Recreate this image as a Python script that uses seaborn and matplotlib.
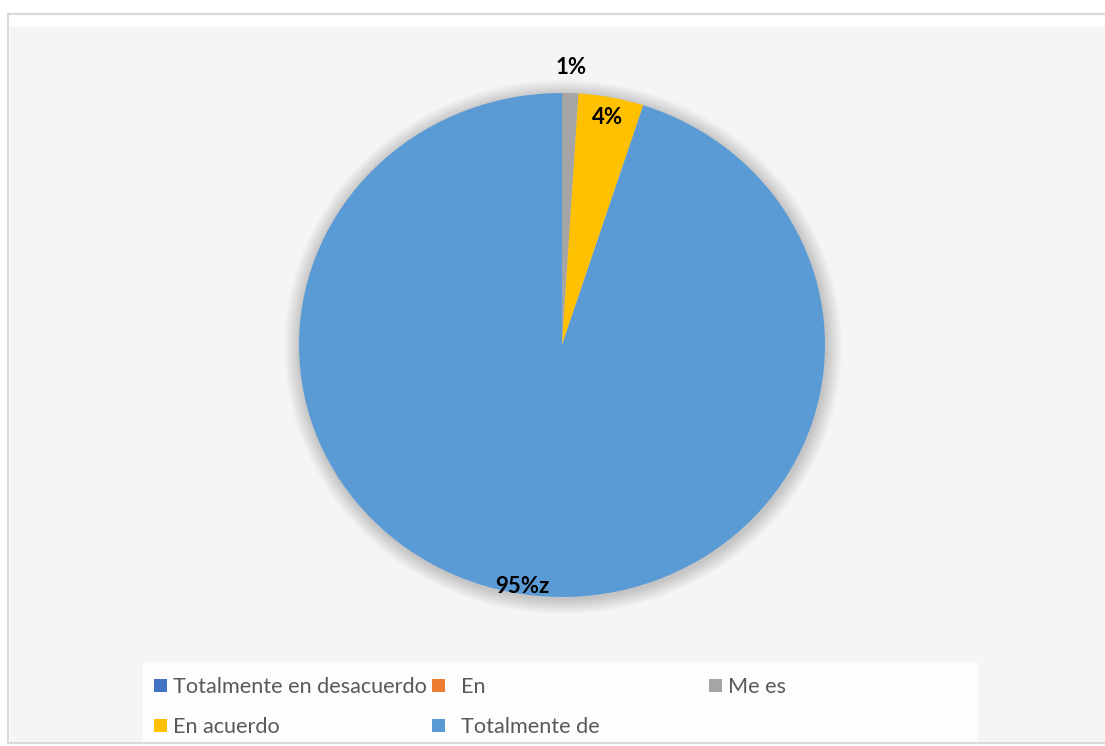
import matplotlib
matplotlib.use("Agg")
import matplotlib.pyplot as plt
from matplotlib.patches import Rectangle, Ellipse
import numpy as np
import seaborn as sns

# Survey answers and their share of responses (%)
categories = ["Totalmente en desacuerdo", "En", "Me es", "En acuerdo", "Totalmente de"]
shares = [0, 0, 1, 4, 95]
value_labels = ["", "", "1%", "4%", "95%z"]
label_dist = [1.0, 1.0, 1.1, 0.92, 0.97]
colors = ["#4472C4", "#ED7D31", "#A5A5A5", "#FFC000", "#5B9BD5"]

sns.set_theme(style="white")
plt.rcParams["font.family"] = ["Lato", "DejaVu Sans"]

W, H = 1105, 746
fig = plt.figure(figsize=(W / 100, H / 100), dpi=100, facecolor="white")

# chart frame and plot-area background
bg = fig.add_axes([0, 0, 1, 1])
bg.set_xlim(0, W)
bg.set_ylim(H, 0)
bg.axis("off")
bg.add_patch(Rectangle((8, 14), W + 10, 729, facecolor="white", edgecolor="#d9d9d9", lw=1.5))
bg.add_patch(Rectangle((10, 27), W, 715, facecolor="#f5f5f5", edgecolor="none"))
bg.add_patch(Rectangle((143, 662), 835, 80, facecolor="#fdfdfd", edgecolor="none"))

# pie area
cx, cy, rx, ry = 562, 345, 263, 252
ax = fig.add_axes([(cx - rx) / W, 1 - (cy + ry) / H, 2 * rx / W, 2 * ry / H])
ax.axis("off")

# soft shadow around the pie
for i in range(12):
    r = 1 + 0.005 * (i + 1)
    ax.add_patch(Ellipse((0.004, -0.008), 2 * r, 2 * r, facecolor="black",
                         alpha=0.016, edgecolor="none", zorder=0, clip_on=False))

wedges, _ = ax.pie(shares, colors=colors, startangle=90, counterclock=False,
                   radius=1, wedgeprops=dict(linewidth=0, clip_on=False), frame=False)
ax.set_xlim(-1, 1)
ax.set_ylim(-1, 1)
ax.set_aspect("auto")

for w, lab, d in zip(wedges, value_labels, label_dist):
    if not lab:
        continue
    mid = np.deg2rad((w.theta1 + w.theta2) / 2)
    ax.text(d * np.cos(mid), d * np.sin(mid), lab, ha="center", va="center",
            fontsize=16, fontweight="bold", color="black", clip_on=False)

# legend laid out in three columns
legend_pos = [(155, 687), (433, 687), (710, 687), (155, 727), (433, 727)]
text_off = [18, 28, 18, 18, 28]
for (x, y), name, col, off in zip(legend_pos, categories, colors, text_off):
    bg.add_patch(Rectangle((x - 1, y - 8), 13, 13, facecolor=col, edgecolor="none"))
    bg.text(x + off, y, name, ha="left", va="center", fontsize=15.6, color="#595959")

fig.savefig("out.png", dpi=100, facecolor="white")
